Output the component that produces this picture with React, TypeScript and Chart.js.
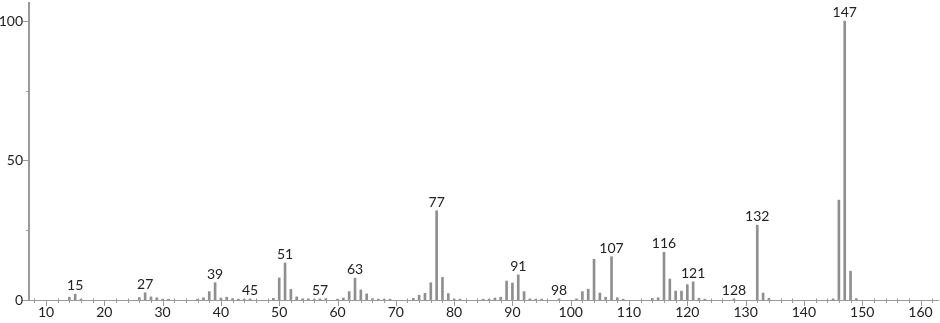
import React, { useEffect, useRef } from "react";
import { Chart, registerables } from "chart.js";

Chart.register(...registerables);

// m/z values and relative intensities (%)
const mz = [
  14, 15, 16, 26, 27, 28, 29, 30, 31, 36, 37, 38, 39, 40, 41, 42, 43, 44, 45,
  49, 50, 51, 52, 53, 54, 55, 56, 57, 58, 60, 61, 62, 63, 64, 65, 66, 67, 68, 69,
  73, 74, 75, 76, 77, 78, 79, 80, 81, 85, 86, 87, 88, 89, 90, 91, 92, 93, 94, 95,
  98, 101, 102, 103, 104, 105, 106, 107, 108, 109, 114, 115, 116, 117, 118, 119,
  120, 121, 122, 123, 128, 132, 133, 134, 145, 146, 147, 148, 149,
];
const intensity = [
  1.0, 2.1, 0.3, 0.9, 2.6, 1.1, 0.8, 0.3, 0.3, 0.3, 0.8, 3.0, 6.2, 0.7, 1.0, 0.5, 0.3, 0.3, 0.4,
  0.6, 7.9, 13.3, 3.8, 1.1, 0.4, 0.4, 0.3, 0.4, 0.5, 0.3, 0.7, 3.0, 7.8, 3.6, 2.2, 0.5, 0.3, 0.3, 0.3,
  0.6, 1.7, 2.4, 6.2, 32.0, 8.1, 2.3, 0.4, 0.3, 0.3, 0.3, 0.7, 1.0, 6.8, 6.1, 9.0, 3.0, 0.4, 0.3, 0.3,
  0.4, 0.4, 3.0, 3.9, 14.6, 2.5, 1.0, 15.5, 0.8, 0.3, 0.6, 0.8, 17.1, 7.5, 3.2, 3.2,
  5.5, 6.5, 0.6, 0.3, 0.4, 26.8, 2.5, 0.6, 0.4, 35.8, 100, 10.3, 0.5,
];
const labeledPeaks = [15, 27, 39, 45, 51, 57, 63, 77, 91, 98, 107, 116, 121, 128, 132, 147];
const xTickLabels = [10, 20, 30, 40, 50, 60, 70, 80, 90, 100, 110, 120, 130, 140, 150, 160];
const xMinorStep = 2;
const yTickLabels = [0, 50, 100];
const yMinorTicks = [25, 75];

const FONT = "Lato, 'DejaVu Sans', sans-serif";
const AXIS_COLOR = "#9a9a9a";
const PEAK_COLOR = "#8f8f8f";
const TEXT_COLOR = "#222222";

const annotatePlugin = {
  id: "annotate",
  afterDraw(chart: any) {
    const { ctx, scales } = chart;
    const xs = scales.x;
    const ys = scales.y;
    const axisY = ys.getPixelForValue(0);
    const left = chart.chartArea.left;
    ctx.save();
    ctx.strokeStyle = AXIS_COLOR;
    ctx.lineWidth = 1;
    for (let v = Math.ceil(xs.min / xMinorStep) * xMinorStep; v <= xs.max; v += xMinorStep) {
      const px = Math.round(xs.getPixelForValue(v)) + 0.5;
      ctx.beginPath();
      if (xTickLabels.includes(v)) {
        ctx.moveTo(px, axisY);
        ctx.lineTo(px, axisY + 6);
      } else {
        ctx.moveTo(px, axisY - 1.5);
        ctx.lineTo(px, axisY + 3);
      }
      ctx.stroke();
    }
    yTickLabels.forEach((v) => {
      const py = Math.round(ys.getPixelForValue(v)) + 0.5;
      ctx.beginPath();
      ctx.moveTo(left - 6, py);
      ctx.lineTo(left, py);
      ctx.stroke();
    });
    yMinorTicks.forEach((v) => {
      const py = Math.round(ys.getPixelForValue(v)) + 0.5;
      ctx.beginPath();
      ctx.moveTo(left - 3, py);
      ctx.lineTo(left, py);
      ctx.stroke();
    });
    ctx.fillStyle = TEXT_COLOR;
    ctx.font = `14px ${FONT}`;
    ctx.textAlign = "center";
    ctx.textBaseline = "alphabetic";
    labeledPeaks.forEach((m) => {
      const i = mz.indexOf(m);
      if (i < 0) return;
      const px = xs.getPixelForValue(m);
      const py = ys.getPixelForValue(intensity[i]);
      ctx.fillText(String(m), px, py - 4);
    });
    ctx.restore();
  },
};

export default function App() {
  const ref = useRef<HTMLCanvasElement | null>(null);

  useEffect(() => {
    if (!ref.current) return;
    const chart = new Chart(ref.current, {
      type: "bar",
      data: {
        datasets: [
          {
            data: mz.map((m, i) => ({ x: m, y: intensity[i] })),
            backgroundColor: PEAK_COLOR,
            borderWidth: 0,
            barThickness: 2,
          },
        ],
      },
      plugins: [annotatePlugin],
      options: {
        animation: false,
        responsive: false,
        devicePixelRatio: 1,
        layout: { padding: { top: 3, right: 2, left: 0, bottom: 0 } },
        plugins: { legend: { display: false }, tooltip: { enabled: false } },
        scales: {
          x: {
            type: "linear",
            min: 7.08,
            max: 163.0,
            offset: false,
            grid: { display: false, offset: false, drawTicks: false },
            border: { display: true, color: AXIS_COLOR, width: 1 },
            afterBuildTicks: (scale: any) => {
              scale.ticks = xTickLabels.map((v) => ({ value: v }));
            },
            afterFit: (scale: any) => {
              scale.height = 23;
              scale.paddingLeft = 0;
              scale.paddingRight = 0;
            },
            ticks: {
              autoSkip: false,
              maxRotation: 0,
              padding: 4,
              color: TEXT_COLOR,
              font: { family: FONT, size: 14 },
              callback: (v: any) => String(v),
            },
          },
          y: {
            min: 0,
            max: 106.45,
            grid: { display: false, drawTicks: false },
            border: { display: true, color: AXIS_COLOR, width: 2 },
            afterBuildTicks: (scale: any) => {
              scale.ticks = yTickLabels.map((v) => ({ value: v }));
            },
            afterFit: (scale: any) => {
              scale.width = 29;
              scale.paddingTop = 0;
              scale.paddingBottom = 0;
            },
            ticks: {
              padding: 6,
              color: TEXT_COLOR,
              font: { family: FONT, size: 14 },
              callback: (v: any) => String(v),
            },
          },
        },
      },
    } as any);
    return () => chart.destroy();
  }, []);

  return (
    <div style={{ position: "fixed", left: 0, top: 0, width: 940, height: 323, background: "#fff" }}>
      <canvas ref={ref} width={940} height={323} style={{ width: 940, height: 323 }} />
    </div>
  );
}
